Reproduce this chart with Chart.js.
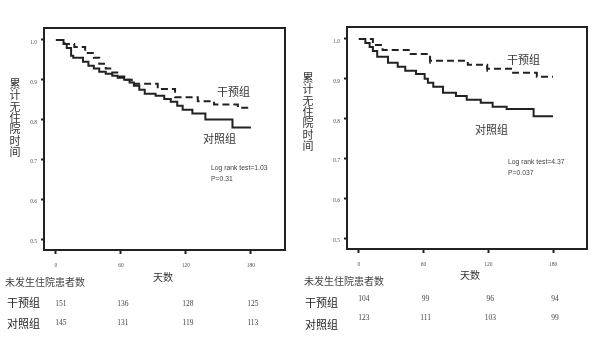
<!DOCTYPE html>
<html>
<head>
<meta charset="utf-8">
<script src="https://cdn.jsdelivr.net/npm/chart.js@4"></script>
<style>
  html, body { margin: 0; padding: 0; background: #fff; }
  #wrap { position: relative; width: 600px; height: 337px; overflow: hidden; }
  canvas { position: absolute; top: 0; }
</style>
</head>
<body>
<div id="wrap">
  <canvas id="left" width="300" height="337" style="left:0"></canvas>
  <canvas id="right" width="300" height="337" style="left:300px"></canvas>
</div>
<script>
// Follow-up days shown on the x axis and in the number-at-risk table
const dayTicks = [0, 60, 120, 180];
const survTicks = [0.5, 0.6, 0.7, 0.8, 0.9, 1.0];

// Number of patients still free of hospitalisation
const leftAtRiskIntervention = [151, 136, 128, 125];
const leftAtRiskControl = [145, 131, 119, 113];
const rightAtRiskIntervention = [104, 99, 96, 94];
const rightAtRiskControl = [123, 111, 103, 99];

// Kaplan-Meier step points (day, cumulative hospitalisation-free proportion)
const leftInterventionDays = [0, 8, 17, 27, 35, 40, 46, 52, 58, 65, 70, 94, 110, 131, 146, 168, 180];
const leftInterventionSurv = [1.0, 0.99, 0.982, 0.967, 0.955, 0.94, 0.928, 0.918, 0.908, 0.9, 0.89, 0.877, 0.856, 0.846, 0.838, 0.83, 0.83];
const leftControlDays = [0, 7, 10, 14, 16, 25, 30, 35, 40, 46, 52, 57, 63, 68, 72, 77, 82, 92, 100, 106, 112, 117, 126, 138, 163, 180];
const leftControlSurv = [1.0, 0.99, 0.98, 0.96, 0.955, 0.945, 0.935, 0.928, 0.92, 0.915, 0.91, 0.905, 0.9, 0.893, 0.885, 0.875, 0.865, 0.86, 0.852, 0.845, 0.835, 0.825, 0.815, 0.8, 0.78, 0.78];

const rightInterventionDays = [0, 13, 22, 48, 66, 101, 119, 143, 165, 180];
const rightInterventionSurv = [1.0, 0.985, 0.972, 0.962, 0.945, 0.935, 0.925, 0.915, 0.905, 0.905];
const rightInterventionCensored = [66, 119];
const rightControlDays = [0, 6, 10, 13, 17, 27, 36, 43, 53, 61, 64, 69, 78, 90, 100, 113, 124, 137, 162, 180];
const rightControlSurv = [1.0, 0.99, 0.98, 0.97, 0.955, 0.94, 0.93, 0.92, 0.912, 0.9, 0.89, 0.88, 0.865, 0.857, 0.847, 0.84, 0.83, 0.824, 0.806, 0.806];

const groupNames = ['干预组', '对照组'];
const yTitle = '累计无住院时间';
const xTitle = '天数';
const tableTitle = '未发生住院患者数';

const CJK = '"Noto Sans CJK SC", "Noto Sans", sans-serif';
const LINE = '#222';

function toPoints(days, surv) {
  return days.map((d, i) => ({ x: d, y: surv[i] }));
}

// Draws frame, curve labels, test statistics, axis titles and the at-risk table
const panelText = {
  id: 'panelText',
  afterDraw(chart, args, o) {
    const ctx = chart.ctx;
    const a = chart.chartArea;
    const xs = chart.scales.x;
    ctx.save();
    ctx.strokeStyle = LINE;
    ctx.lineWidth = 2;
    ctx.strokeRect(a.left, a.top, a.right - a.left, a.bottom - a.top);

    ctx.fillStyle = '#333';
    ctx.textBaseline = 'middle';
    ctx.textAlign = 'left';
    ctx.font = '11px ' + CJK;
    ctx.fillText(groupNames[0], o.intLabel[0], o.intLabel[1]);
    ctx.fillText(groupNames[1], o.ctlLabel[0], o.ctlLabel[1]);

    ctx.fillStyle = '#444';
    ctx.font = '6.8px "Liberation Sans", sans-serif';
    ctx.fillText(o.stat[0], o.statPos[0], o.statPos[1]);
    ctx.fillText(o.stat[1], o.statPos[0], o.statPos[1] + 11);

    // vertical y-axis title, one upright character per line
    ctx.fillStyle = '#333';
    ctx.textAlign = 'center';
    ctx.font = '11px ' + CJK;
    Array.from(yTitle).forEach((ch, i) => {
      ctx.fillText(ch, o.yTitle[0], o.yTitle[1] + i * 11.3);
    });
    ctx.font = '10px ' + CJK;
    ctx.fillText(xTitle, o.xTitle[0], o.xTitle[1]);

    ctx.textAlign = 'left';
    ctx.fillStyle = '#444';
    ctx.font = '10px ' + CJK;
    ctx.fillText(tableTitle, o.tableTitle[0], o.tableTitle[1]);
    ctx.fillStyle = '#222';
    ctx.font = '11px ' + CJK;
    ctx.fillText(groupNames[0], o.rowLabelX, o.rowY[0]);
    ctx.fillText(groupNames[1], o.rowLabelX, o.rowY[1]);

    ctx.fillStyle = '#444';
    ctx.textAlign = 'center';
    ctx.font = '7.5px "Liberation Serif", serif';
    o.rows.forEach((row, r) => {
      row.forEach((n, i) => {
        const x = xs.getPixelForValue(dayTicks[i]) + (i === 0 ? 5 : 2);
        ctx.fillText(String(n), x, o.numY[r]);
      });
    });
    ctx.restore();
  }
};

function makePanel(id, pad, intPts, ctlPts, censored, text) {
  const censorRadius = (c) => {
    const p = c.raw;
    return p && censored.includes(p.x) ? 3 : 0;
  };
  return new Chart(document.getElementById(id), {
    type: 'line',
    data: {
      datasets: [
        {
          label: groupNames[0], data: intPts, stepped: true,
          borderColor: LINE, borderWidth: 2, borderDash: [7, 4],
          pointStyle: 'line', rotation: 90, pointRadius: censorRadius,
          pointBorderColor: LINE, pointBorderWidth: 1.5, fill: false
        },
        {
          label: groupNames[1], data: ctlPts, stepped: true,
          borderColor: LINE, borderWidth: 2, pointRadius: 0, fill: false
        }
      ]
    },
    options: {
      responsive: false,
      animation: false,
      devicePixelRatio: 1,
      layout: { padding: pad },
      plugins: { legend: { display: false }, tooltip: { enabled: false }, panelText: text },
      scales: {
        x: {
          type: 'linear', min: -11, max: 211.5,
          afterBuildTicks: s => { s.ticks = dayTicks.map(v => ({ value: v })); },
          afterFit: s => { s.height = 30; },
          border: { display: false },
          grid: { drawOnChartArea: false, drawTicks: true, tickLength: 4, tickColor: LINE, tickWidth: 2 },
          ticks: { font: { size: 5.5, family: 'Liberation Serif' }, color: '#555', padding: 8, maxRotation: 0, autoSkip: false }
        },
        y: {
          type: 'linear', min: 0.4725, max: 1.03,
          afterBuildTicks: s => { s.ticks = survTicks.map(v => ({ value: v })); },
          afterFit: s => { s.width = 30; },
          border: { display: false },
          grid: { drawOnChartArea: false, drawTicks: true, tickLength: 3, tickColor: LINE, tickWidth: 2 },
          ticks: { font: { size: 5.5, family: 'Liberation Serif' }, color: '#555', padding: 4, labelOffset: 2.5, callback: v => v.toFixed(1) }
        }
      }
    },
    plugins: [panelText]
  });
}

makePanel('left', { left: 14, right: 15, top: 28, bottom: 57 },
  toPoints(leftInterventionDays, leftInterventionSurv),
  toPoints(leftControlDays, leftControlSurv), [],
  {
    intLabel: [217, 92], ctlLabel: [203, 139],
    stat: ['Log rank test=1.03', 'P=0.31'], statPos: [211, 168],
    yTitle: [15, 84], xTitle: [163, 277],
    tableTitle: [5, 282], rowLabelX: 7, rowY: [303, 324],
    rows: [leftAtRiskIntervention, leftAtRiskControl], numY: [304, 323]
  });

makePanel('right', { left: 17, right: 13, top: 27, bottom: 58 },
  toPoints(rightInterventionDays, rightInterventionSurv),
  toPoints(rightControlDays, rightControlSurv), rightInterventionCensored,
  {
    intLabel: [207, 60], ctlLabel: [175, 130],
    stat: ['Log rank test=4.37', 'P=0.037'], statPos: [208, 162],
    yTitle: [8, 78], xTitle: [170, 275],
    tableTitle: [4, 281], rowLabelX: 5, rowY: [303, 325],
    rows: [rightAtRiskIntervention, rightAtRiskControl], numY: [299, 318]
  });
</script>
</body>
</html>
